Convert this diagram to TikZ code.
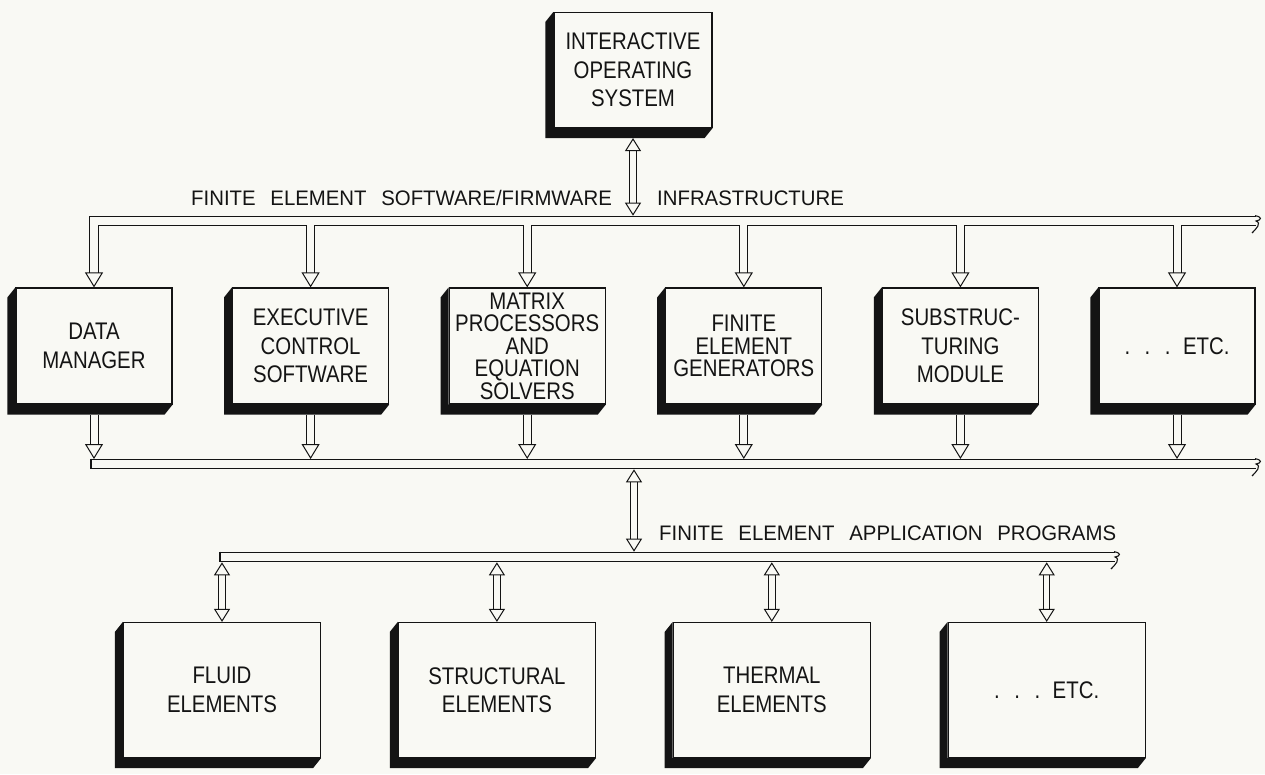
\documentclass[tikz,border=0pt]{standalone}
\usepackage{fontspec}
\setmainfont{Liberation Sans}
\newfontfamily\boxfont[FakeStretch=0.85]{Liberation Sans}
\newfontfamily\busfont[FakeStretch=0.97,WordSpace=2.6]{Liberation Sans}
\usepackage{tikz}
\usetikzlibrary{arrows.meta,positioning,calc}
\definecolor{feaPaper}{HTML}{F9F9F4}
\definecolor{feaInk}{HTML}{141414}
\tikzset{
  feabox/.style={draw=feaInk,line width=1.2pt,fill=feaPaper,text=feaInk,align=center,
                 inner sep=0pt,minimum width=156pt,minimum height=116pt,
                 font=\boxfont\fontsize{24}{28.5}\selectfont},
  featight/.style={font=\boxfont\fontsize{24}{22.5}\selectfont},
  feaapp/.style={feabox,minimum width=197pt,minimum height=135pt},
  feaside/.style={fill=feaInk},
  feabus/.style={draw=feaInk,line width=1.1pt,double=feaPaper,double distance=8.5pt,line join=miter},
  feabore/.style={draw=feaPaper,line width=8.5pt},
  feadown/.style={-{Triangle[open,length=15pt 0 0,width=18pt 0 0,line width=1pt 0 0]}},
  feafeed/.style={draw=feaInk,line width=1pt,double=feaPaper,double distance=7pt,feadown},
  feaboth/.style={draw=feaInk,line width=1pt,double=feaPaper,double distance=5.5pt,
                  {Triangle[open,length=13pt 0 0,width=16pt 0 0,line width=1pt 0 0]}-{Triangle[open,length=13pt 0 0,width=16pt 0 0,line width=1pt 0 0]}},
  fealbl/.style={font=\busfont\fontsize{21}{24}\selectfont,text=feaInk,inner sep=0pt},
  feabreak/.style={draw=feaInk,line width=1.1pt},
}
\newcommand\feaetc{.\hspace{14.5pt}.\hspace{14.5pt}.\hspace{12.5pt}ETC.}
\newcommand\feacut[1]{\draw[feabreak] ($(#1)+(-1,-5.3)$) .. controls +(7,1) and +(6,-1) .. ++(1,5.3)
  .. controls +(6,2) and +(4,-4) .. ++(-4,12);}

\begin{document}
\begin{tikzpicture}[x=1pt,y=-1pt]
  \path[use as bounding box,fill=feaPaper] (0,0) rectangle (1265,774);

  \node[feabox,minimum width=158pt,minimum height=115pt] (ios) at (633,70) {INTERACTIVE\\OPERATING\\SYSTEM};

  % Modules hanging off the infrastructure bus.
  \node[feabox] (dm) at (94,346) {DATA\\MANAGER};
  \node[feabox,right=59.4pt of dm] (ecs) {EXECUTIVE\\CONTROL\\SOFTWARE};
  \node[feabox,featight,right=59.4pt of ecs] (mps) {MATRIX\\PROCESSORS\\AND\\EQUATION\\SOLVERS};
  \node[feabox,featight,right=59.4pt of mps] (feg) {FINITE\\ELEMENT\\GENERATORS};
  \node[feabox,right=59.4pt of feg] (stm) {SUBSTRUC-\\TURING\\MODULE};
  \node[feabox,right=59.4pt of stm] (etca) {\feaetc};

  % Application program library.
  \node[feaapp] (fle) at (222,690) {FLUID\\ELEMENTS};
  \node[feaapp,right=76.7pt of fle] (ste) {STRUCTURAL\\ELEMENTS};
  \node[feaapp,right=76.7pt of ste] (thm) {THERMAL\\ELEMENTS};
  \node[feaapp,right=76.7pt of thm] (etcb) {\feaetc};

  % Dark left and bottom faces of every box.
  \foreach \b in {ios,dm,ecs,mps,feg,stm,etca,fle,ste,thm,etcb}
    \fill[feaside] (\b.north west) -- ++(-8,10) -- ($(\b.south west)+(-8,10)$)
      -- ($(\b.south east)+(-8,10)$) -- (\b.south east) -- (\b.south west) -- cycle;

  \coordinate (swend) at (1256,221);
  \coordinate (swtop) at (0,215.7);
  \coordinate (lobusl) at (91,464);
  \coordinate (lobusr) at (1256,464);
  \coordinate (lobustop) at (0,459);
  \coordinate (midtop) at (634,469.3);
  \coordinate (midbot) at (634,551.7);
  \coordinate (appl) at (220,557);
  \coordinate (appr) at (1115,557);
  \coordinate (appbot) at (0,562.3);

  % Infrastructure bus, bending down into the data manager.
  \draw[feabus,feadown] (swend) -- (dm.north |- swend) -- (dm.north);
  \foreach \b in {ecs,mps,feg,stm,etca}
    \draw[feafeed] (\b.north |- swend) -- (\b.north);
  \draw[feabore] (swend) -- (dm.north |- swend);
  \feacut{swend}
  \draw[feaboth] ([yshift=-10pt]ios.south) -- (ios.south |- swtop);

  \node[fealbl,anchor=base east] (swlbl) at (612,205) {FINITE ELEMENT SOFTWARE/FIRMWARE};
  \node[fealbl,anchor=base west] (inflbl) at (657,205) {INFRASTRUCTURE};

  % Collecting bus below the modules.
  \draw[feabus] (lobusl) -- (lobusr);
  \draw[feabreak] ($(lobusl)+(0,-5.3)$) -- ($(lobusl)+(0,5.3)$);
  \feacut{lobusr}
  \foreach \b in {dm,ecs,mps,feg,stm,etca}
    \draw[feafeed] ([yshift=-10pt]\b.south) -- (\b.south |- lobustop);
  \draw[feaboth] (midtop) -- (midbot);

  % Application programs bus.
  \draw[feabus] (appl) -- (appr);
  \draw[feabreak] ($(appl)+(0,-5.3)$) -- ($(appl)+(0,5.3)$);
  \feacut{appr}
  \node[fealbl,anchor=base west] (applbl) at (659,540) {FINITE ELEMENT APPLICATION PROGRAMS};
  \foreach \b in {fle,ste,thm,etcb}
    \draw[feaboth] (\b.north |- appbot) -- (\b.north);
\end{tikzpicture}
\end{document}
